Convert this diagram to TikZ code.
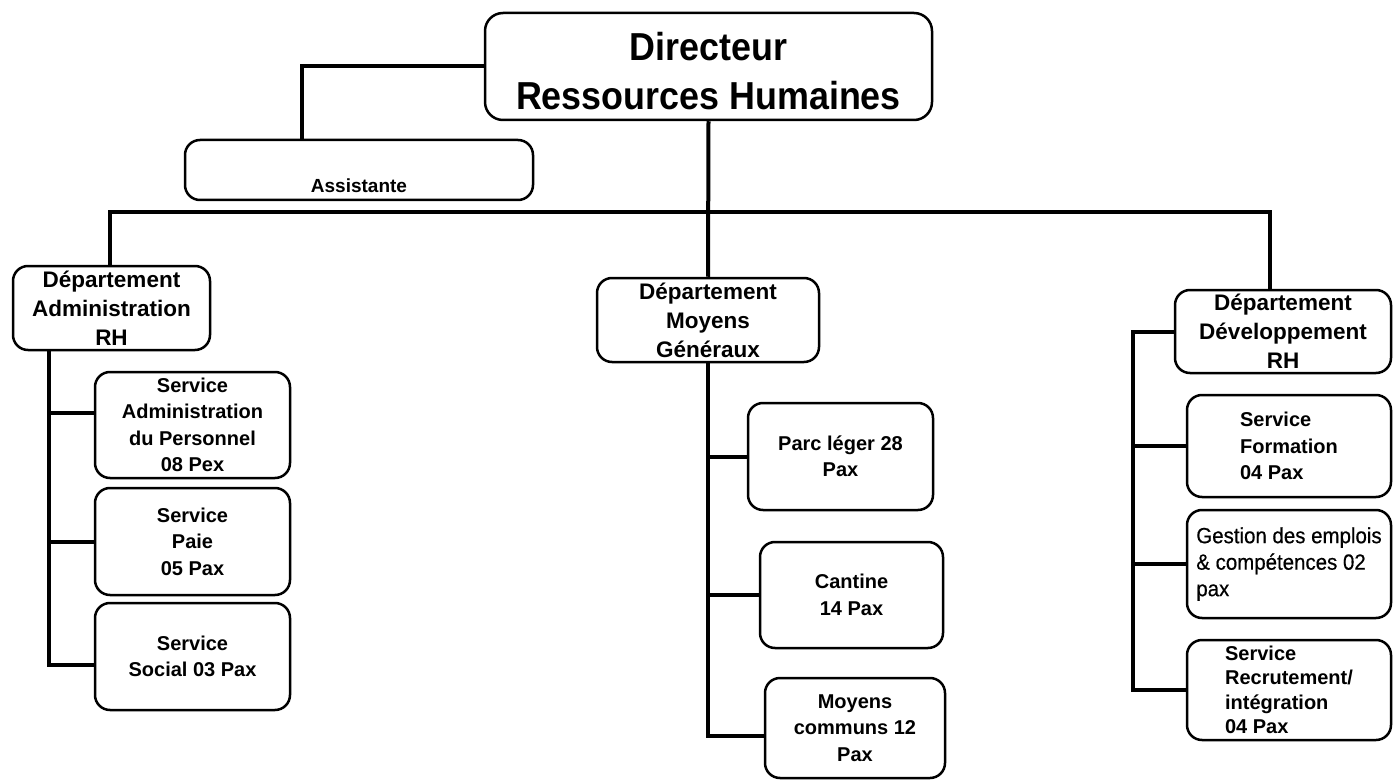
\documentclass[tikz,border=0pt]{standalone}
\usepackage{fontspec}
\setmainfont{Liberation Sans}
\newfontfamily\narrowfont[FakeStretch=0.93,FakeBold=0.5]{Liberation Sans}
\newfontfamily\dirfont[FakeStretch=0.92]{Liberation Sans}
\begin{document}
\begin{tikzpicture}[x=1pt,y=-1pt,
  box/.style={draw, line width=2.5pt, rounded corners=15pt, align=center, inner sep=0pt},
  conn/.style={line width=4pt},
  dept/.style={box, font=\fontsize{22.5}{29}\selectfont\bfseries},
  svc/.style={box, font=\fontsize{20}{26.5}\selectfont\bfseries},
  svcl/.style={svc, align=left}]
\useasboundingbox[fill=white] (0,0) rectangle (1393,781);

% top
\node[box, rounded corners=18pt, minimum width=447pt, minimum height=107pt] (dir) at (708.5,66.5) {};
\node[align=center, inner sep=0pt, font=\dirfont\fontsize{39}{49}\selectfont\bfseries]
      (dirtext) at ([yshift=-5pt]dir.center) {Directeur\\Ressources Humaines};
\node[box, minimum width=348pt, minimum height=60pt,
      font=\fontsize{19}{24}\selectfont\bfseries] (asst) at (359,170)
      {\raisebox{-23pt}[0pt][0pt]{Assistante}};

% departments
\node[dept, minimum width=197pt, minimum height=84pt] (adm) at (111.5,308)
      {Département\\Administration\\RH};
\node[dept, minimum width=222pt, minimum height=84pt] (mg) at (708,320)
      {Département\\Moyens\\Généraux};
\node[dept, minimum width=216pt, minimum height=83pt] (dev) at (1283,331.5)
      {Département\\Développement\\RH};

% left services
\node[svc, minimum width=195pt, minimum height=106pt] (s1) at (192.5,425)
      {Service\\Administration\\du Personnel\\08 Pex};
\node[svc, minimum width=195pt, minimum height=107pt] (s2) at (192.5,541.5)
      {Service\\Paie\\05 Pax};
\node[svc, minimum width=195pt, minimum height=107pt] (s3) at (192.5,656.5)
      {Service\\Social 03 Pax};

% middle services
\node[svc, minimum width=185pt, minimum height=107pt] (m1) at (840.5,456.5)
      {Parc léger 28\\Pax};
\node[svc, minimum width=183pt, minimum height=106pt] (m2) at (851.5,595)
      {Cantine\\14 Pax};
\node[svc, minimum width=180pt, minimum height=100pt] (m3) at (855,728)
      {Moyens\\communs 12\\Pax};

% right services
\node[svcl, minimum width=204pt, minimum height=102pt] (r1) at (1289,446)
      {Service\\Formation\\04 Pax};
\node[box, align=left, minimum width=204pt, minimum height=108pt,
      font=\narrowfont\fontsize{22}{26.5}\selectfont] (r2) at (1289,564)
      {Gestion des emplois\\\& compétences 02\\pax};
\node[svcl, minimum width=204pt, minimum height=100pt,
      font=\fontsize{20}{24.5}\selectfont\bfseries] (r3) at (1289,690)
      {Service\\Recrutement/\\intégration\\04 Pax};

% connectors
\coordinate (bus) at (708,212);
\coordinate (ra) at (1133,331.5);
\path ([xshift=37pt]adm.south west) coordinate (la);

\draw[conn] (dir.west) -| ([xshift=-57pt]asst.north);
\draw[conn] (dir.south) -- (mg.north);
\draw[conn] ([xshift=-2pt]adm.north) |- (bus) -| ([xshift=-13pt]dev.north);

\draw[conn] (la) |- ([yshift=-8.5pt]s3.west);
\draw[conn] ([yshift=12pt]s1.west) -| (la);
\draw[conn] (s2.west) -| (la);

\draw[conn] (mg.south) |- ([yshift=-8pt]m3.west);
\draw[conn] (m1.west) -| (mg.south);
\draw[conn] (m2.west) -| (mg.south);

\draw[conn] (dev.west) -- (ra) |- (r3.west);
\draw[conn] (r1.west) -| (ra);
\draw[conn] (r2.west) -| (ra);
\end{tikzpicture}
\end{document}
